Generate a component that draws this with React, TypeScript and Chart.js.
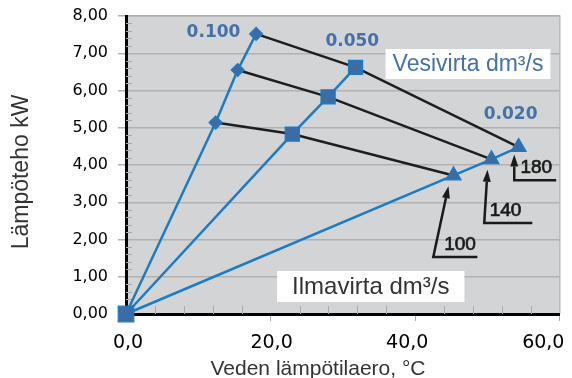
import React, { useEffect, useRef } from 'react';
import { Chart, registerables } from 'chart.js';

Chart.register(...registerables);

// Water flow series (dm3/s) — temperature difference (°C) and heat output (kW)
const waterFlows = ['0.100', '0.050', '0.020'];
const dT100 = [0, 12.4, 15.45, 18.0];
const kW100 = [0, 5.14, 6.55, 7.52];
const dT050 = [0, 23.0, 27.95, 31.75];
const kW050 = [0, 4.83, 5.83, 6.62];
const dT020 = [0, 45.3, 50.55, 54.3];
const kW020 = [0, 3.72, 4.15, 4.48];
// Air flow levels (dm3/s), one per marker index 1..3
const airFlows = ['100', '140', '180'];

const xTickValues = [0, 20, 40, 60];
const yTickValues = [0, 1, 2, 3, 4, 5, 6, 7, 8];

const xTitle = 'Veden lämpötilaero, °C';
const yTitle = 'Lämpöteho kW';
const waterLegend = 'Vesivirta dm³/s';
const airLegend = 'Ilmavirta dm³/s';

const BLUE = '#1b7bc4';
const MARK = '#3a6da6';
const LABEL_BLUE = '#4472a7';

// annotation anchors in data units
const waterLabelPos = [
  { x: 12.1, y: 7.56 },
  { x: 31.3, y: 7.31 },
  { x: 53.2, y: 5.35 },
];
const arrowPos = [
  { tip: { x: 44.6, y: 3.43 }, corner: { x: 42.5, y: 1.53 }, end: 48.6, text: { x: 46.2, y: 1.86 } },
  { tip: { x: 50.0, y: 3.87 }, corner: { x: 49.55, y: 2.44 }, end: 56.2, text: { x: 52.5, y: 2.78 } },
  { tip: { x: 53.7, y: 4.28 }, corner: { x: 53.7, y: 3.59 }, end: 59.5, text: { x: 56.75, y: 3.93 } },
];
const waterLegendPos = { x: 47.3, y: 6.71 };
const airLegendPos = { x: 33.85, y: 0.74 };
// horizontal nudges (px) of the x tick labels, as in the original
const xLabelNudge = [2, 1, -8, -16.5];

const pts = (xs: number[], ys: number[]) => xs.map((x, i) => ({ x, y: ys[i] }));
const fmtX = (v: number) => v.toFixed(1).replace('.', ',');

const decorPlugin = {
  id: 'decor',
  beforeDraw(chart: any) {
    const { ctx, chartArea: a } = chart;
    ctx.save();
    ctx.fillStyle = '#d3d4d6';
    ctx.fillRect(a.left, a.top, a.right - a.left, a.bottom - a.top);
    ctx.strokeStyle = '#bcbcbc';
    ctx.lineWidth = 1.5;
    ctx.beginPath();
    ctx.moveTo(a.left, a.top);
    ctx.lineTo(a.right, a.top);
    ctx.lineTo(a.right, a.bottom);
    ctx.stroke();
    ctx.restore();
  },
  beforeDatasetsDraw(chart: any) {
    const { ctx, chartArea: a, scales } = chart;
    const xs = scales.x;
    const ys = scales.y;
    ctx.save();
    ctx.strokeStyle = '#a9a9a9';
    ctx.lineWidth = 1;
    ctx.beginPath();
    for (let v = 4; v < 60; v += 4) {
      if (v % 20 === 0) continue;
      const px = Math.round(xs.getPixelForValue(v)) + 0.5;
      ctx.moveTo(px, a.bottom);
      ctx.lineTo(px, a.bottom - 8);
    }
    for (let i = 1; i < 40; i++) {
      if (i % 5 === 0) continue;
      const py = Math.round(ys.getPixelForValue(i * 0.2)) + 0.5;
      ctx.moveTo(a.left, py);
      ctx.lineTo(a.left + 6, py);
    }
    ctx.stroke();
    ctx.restore();
  },
  afterDatasetsDraw(chart: any) {
    const { ctx, scales } = chart;
    const X = (v: number) => scales.x.getPixelForValue(v);
    const Y = (v: number) => scales.y.getPixelForValue(v);
    ctx.save();

    // water flow labels
    ctx.font = 'bold 17px "DejaVu Sans"';
    ctx.fillStyle = LABEL_BLUE;
    ctx.textAlign = 'center';
    ctx.textBaseline = 'middle';
    waterFlows.forEach((t, i) => ctx.fillText(t, X(waterLabelPos[i].x), Y(waterLabelPos[i].y)));

    // legend boxes
    const box = (text: string, pos: { x: number; y: number }, font: string, color: string, padX: number, h: number) => {
      ctx.font = font;
      const w = ctx.measureText(text).width;
      const cx = X(pos.x);
      const cy = Y(pos.y);
      ctx.fillStyle = '#ffffff';
      ctx.fillRect(cx - w / 2 - padX, cy - h / 2, w + 2 * padX, h);
      ctx.fillStyle = color;
      ctx.textAlign = 'center';
      ctx.textBaseline = 'middle';
      ctx.fillText(text, cx, cy + 1);
    };
    box(waterLegend, waterLegendPos, '23px "Liberation Sans"', LABEL_BLUE, 7, 30);
    box(airLegend, airLegendPos, '24px "Liberation Sans"', '#333333', 15, 31);

    // air flow arrows
    ctx.strokeStyle = '#1a1a1a';
    ctx.fillStyle = '#1a1a1a';
    arrowPos.forEach((p, i) => {
      const tx = X(p.tip.x), ty = Y(p.tip.y);
      const cx = X(p.corner.x), cy = Y(p.corner.y);
      const ex = X(p.end);
      const ang = Math.atan2(ty - cy, tx - cx);
      const hl = 12, hw = 4;
      const bx = tx - Math.cos(ang) * hl, by = ty - Math.sin(ang) * hl;
      ctx.lineWidth = 2.5;
      ctx.beginPath();
      ctx.moveTo(ex, cy);
      ctx.lineTo(cx, cy);
      ctx.lineTo(bx, by);
      ctx.stroke();
      ctx.beginPath();
      ctx.moveTo(tx, ty);
      ctx.lineTo(bx - Math.sin(ang) * hw, by + Math.cos(ang) * hw);
      ctx.lineTo(bx + Math.sin(ang) * hw, by - Math.cos(ang) * hw);
      ctx.closePath();
      ctx.fill();
      ctx.font = '19px "Liberation Sans"';
      ctx.textAlign = 'center';
      ctx.textBaseline = 'middle';
      ctx.lineWidth = 0.7;
      ctx.fillText(airFlows[i], X(p.text.x), Y(p.text.y));
      ctx.strokeText(airFlows[i], X(p.text.x), Y(p.text.y));
    });
    ctx.restore();
  },
  afterDraw(chart: any) {
    const { ctx, chartArea: a, scales } = chart;
    ctx.save();
    // x tick labels
    ctx.fillStyle = '#000000';
    ctx.font = '19px "DejaVu Sans"';
    ctx.textAlign = 'center';
    ctx.textBaseline = 'middle';
    xTickValues.forEach((v, i) => ctx.fillText(fmtX(v), scales.x.getPixelForValue(v) + xLabelNudge[i], a.bottom + 29));
    // axis titles
    ctx.fillStyle = '#333333';
    ctx.font = '21px "Liberation Sans"';
    ctx.textAlign = 'center';
    ctx.textBaseline = 'alphabetic';
    ctx.fillText(xTitle, 318, 375);
    ctx.translate(28, 172);
    ctx.rotate(-Math.PI / 2);
    ctx.font = '23px "Liberation Sans"';
    ctx.fillText(yTitle, 0, 0);
    ctx.restore();
  },
};

export default function App() {
  const ref = useRef<HTMLCanvasElement | null>(null);
  useEffect(() => {
    if (!ref.current) return;
    const blueSeries = (xs: number[], ys: number[], style: string, r: number[]) => ({
      data: pts(xs, ys),
      borderColor: BLUE,
      borderWidth: 2.5,
      pointStyle: style,
      pointRadius: r,
      pointBackgroundColor: MARK,
      pointBorderColor: BLUE,
      pointBorderWidth: 1.2,
      showLine: true,
      tension: 0,
      clip: false,
    });
    const blackLines = [1, 2, 3].map((i) => ({
      data: [
        { x: dT100[i], y: kW100[i] },
        { x: dT050[i], y: kW050[i] },
        { x: dT020[i], y: kW020[i] },
      ],
      borderColor: '#1e1e1e',
      borderWidth: 2.5,
      pointRadius: 0,
      showLine: true,
      tension: 0,
    }));
    const chart = new Chart(ref.current, {
      type: 'scatter',
      data: {
        datasets: [
          blueSeries(dT050, kW050, 'rect', [11, 10, 10, 10]),
          blueSeries(dT100, kW100, 'rectRot', [0, 6.5, 6.5, 6.5]),
          blueSeries(dT020, kW020, 'triangle', [0, 8.7, 8.7, 8.7]),
          ...blackLines,
        ] as any,
      },
      options: {
        animation: false,
        responsive: false,
        devicePixelRatio: 1,
        layout: { padding: { left: 0, top: 16, right: 10, bottom: 0 } },
        plugins: { legend: { display: false }, tooltip: { enabled: false } },
        scales: {
          x: {
            type: 'linear',
            min: 0,
            max: 60,
            afterBuildTicks: (s: any) => {
              s.ticks = xTickValues.map((v) => ({ value: v }));
            },
            afterFit: (s: any) => {
              s.height = 64;
              s.paddingLeft = 0;
              s.paddingRight = 0;
            },
            ticks: {
              display: false,
              autoSkip: false,
              maxRotation: 0,
              callback: (v: any) => fmtX(Number(v)),
            },
            grid: { drawOnChartArea: false, tickLength: 7, color: '#a9a9a9', lineWidth: 1 },
            border: { color: '#000000', width: 3 },
          },
          y: {
            type: 'linear',
            min: 0,
            max: 8,
            afterBuildTicks: (s: any) => {
              s.ticks = yTickValues.map((v) => ({ value: v }));
            },
            afterFit: (s: any) => {
              s.width = 126;
              s.paddingTop = 0;
              s.paddingBottom = 0;
            },
            ticks: {
              autoSkip: false,
              padding: 10,
              color: '#000000',
              font: { family: '"DejaVu Sans"', size: 16 },
              callback: (v: any) => Number(v).toFixed(2).replace('.', ','),
            },
            grid: { tickLength: 8, color: '#b1b1b1', lineWidth: 1.5 },
            border: { color: '#000000', width: 3 },
          },
        },
      },
      plugins: [decorPlugin],
    });
    return () => chart.destroy();
  }, []);
  return (
    <div style={{ position: 'absolute', left: 0, top: 0, width: 572, height: 378, background: '#ffffff' }}>
      <canvas ref={ref} width={572} height={378} style={{ display: 'block', width: 572, height: 378 }} />
    </div>
  );
}
